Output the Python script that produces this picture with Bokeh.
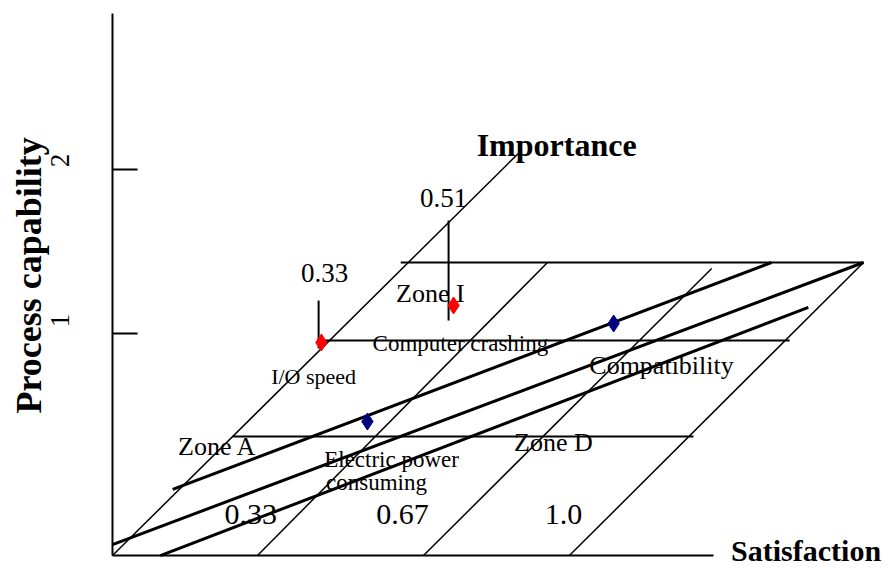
from bokeh.plotting import figure
from bokeh.models import Range1d, ColumnDataSource
from bokeh.core.properties import value
from bokeh.embed import file_html
from bokeh.resources import INLINE
import math

# ---- Diagram geometry, in (satisfaction, process capability) units ----
# main axes
axis_x0 = [0.0, 0.0]
axis_y0 = [-0.354, -0.354]
axis_x1 = [0.0, 1.318]
axis_y1 = [2.951, -0.354]

# process capability ticks
cap_ticks = [1.0, 2.0]
cap_tick_len = 0.055
cap_tick_labels = ["1", "2"]
cap_label_y = [1.079, 2.055]

# importance (oblique) grid lines
obl_x0 = [0.0, 0.318, 0.682, 1.002]
obl_y0 = [-0.354, -0.354, -0.354, -0.354]
obl_x1 = [0.890, 0.954, 1.314, 1.647]
obl_y1 = [2.098, 1.433, 1.396, 1.433]

# zone boundaries (horizontal)
zone_y = [1.433, 0.957, 0.372]
zone_x0 = [0.632, 0.458, 0.263]
zone_x1 = [1.647, 1.485, 1.274]

# thick bands
band_x0 = [0.132, 0.0, 0.105]
band_y0 = [0.049, -0.287, -0.354]
band_x1 = [1.445, 1.647, 1.526]
band_y1 = [1.433, 1.433, 1.159]

# items
items = ["I/O speed", "Computer crashing", "Electric power consuming", "Compatibility"]
item_sat = [0.458, 0.748, 0.559, 1.099]
item_cap = [0.945, 1.171, 0.463, 1.061]
item_color = ["#FF0000", "#FF0000", "#000080", "#000080"]

# importance value stems
imp_labels = ["0.33", "0.51"]
stem_x = [0.452, 0.737]
stem_y0 = [0.909, 1.079]
stem_y1 = [1.201, 1.689]
imp_label_x = [0.465, 0.726]
imp_label_y = [1.366, 1.829]

# satisfaction level labels
sat_labels = ["0.33", "0.67", "1.0"]
sat_label_x = [0.303, 0.636, 0.989]
sat_label_y = [-0.104, -0.104, -0.104]

# item / zone texts
txt = ["Zone I", "Computer crashing", "I/O speed", "Compatibility", "Zone A", "Zone D",
       "Electric power", "consuming"]
txt_x = [0.697, 0.763, 0.441, 1.204, 0.230, 0.967, 0.612, 0.579]
txt_y = [1.241, 0.942, 0.735, 0.802, 0.311, 0.338, 0.232, 0.091]
txt_size = ["26px", "23px", "22px", "26px", "26px", "26px", "23px", "23px"]

SERIF = value("Liberation Serif")

p = figure(width=893, height=569,
           x_range=Range1d(-0.2456, 1.7127), y_range=Range1d(-0.439, 3.0305),
           x_axis_type=None, y_axis_type=None,
           output_backend="svg", toolbar_location=None, min_border=0)
p.grid.visible = False
p.outline_line_color = None
p.background_fill_color = "white"
p.border_fill_color = "white"

# texts
p.text(x=txt_x, y=txt_y, text=txt, text_font=SERIF, text_font_size=txt_size,
       text_align="center", text_baseline="middle", text_color="black")
p.text(x=imp_label_x, y=imp_label_y, text=imp_labels, text_font=SERIF,
       text_font_size="27px", text_align="center", text_baseline="middle")
p.text(x=sat_label_x, y=sat_label_y, text=sat_labels, text_font=SERIF,
       text_font_size="30px", text_align="center", text_baseline="middle")
p.text(x=[0.974], y=[2.152], text=["Importance"], text_font=SERIF, text_font_style="bold",
       text_font_size="32px", text_align="center", text_baseline="middle")
p.text(x=[1.521], y=[-0.323], text=["Satisfaction"], text_font=SERIF, text_font_style="bold",
       text_font_size="30px", text_align="center", text_baseline="middle")
p.text(x=[-0.184], y=[1.354], text=["Process capability"], text_font=SERIF,
       text_font_style="bold", text_font_size="36px", angle=math.pi / 2,
       text_align="center", text_baseline="middle")
p.text(x=[-0.116, -0.116], y=cap_label_y, text=cap_tick_labels, text_font=SERIF,
       text_font_size="27px", angle=math.pi / 2, text_align="center",
       text_baseline="middle")

# axes and ticks
p.segment(x0=axis_x0, y0=axis_y0, x1=axis_x1, y1=axis_y1, line_color="black", line_width=2)
p.segment(x0=[0.0] * len(cap_ticks), y0=cap_ticks, x1=[cap_tick_len] * len(cap_ticks),
          y1=cap_ticks, line_color="black", line_width=2)

# grid
p.segment(x0=obl_x0, y0=obl_y0, x1=obl_x1, y1=obl_y1, line_color="black", line_width=1.5)
p.segment(x0=zone_x0, y0=zone_y, x1=zone_x1, y1=zone_y, line_color="black", line_width=2)
p.segment(x0=band_x0, y0=band_y0, x1=band_x1, y1=band_y1, line_color="black", line_width=3)
p.segment(x0=stem_x, y0=stem_y0, x1=stem_x, y1=stem_y1, line_color="black", line_width=2)

# items
src = ColumnDataSource(dict(x=item_sat, y=item_cap, c=item_color, name=items))
p.scatter(x="x", y="y", source=src, marker="diamond", size=17,
          fill_color="c", line_color="c")

open("out.html", "w").write(file_html(p, INLINE))
